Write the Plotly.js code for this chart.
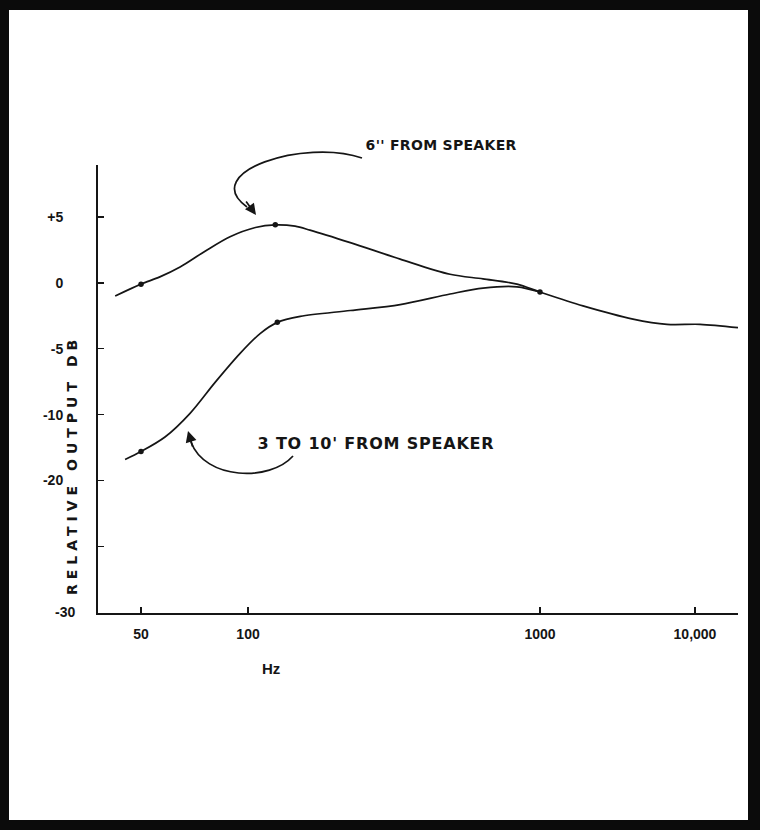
<!DOCTYPE html>
<html>
<head>
<meta charset="utf-8">
<script src="https://cdn.plot.ly/plotly-3.0.1.min.js"></script>
<style>
  html, body { margin: 0; padding: 0; background: #0b0b0b; }
  #chart { position: absolute; left: 9px; top: 10px; width: 739px; height: 810px; background: #fff; }
</style>
</head>
<body>
<div id="chart"></div>
<script>
// ---- data ----
const near6Hz = [42.3, 50, 56.5, 64.4, 75.7, 89, 106, 124, 145, 163, 224, 332, 492, 638, 834, 1000, 1894, 3981, 6598, 10770, 18940];
const near6Db = [-1.0, -0.1, 0.45, 1.2, 2.4, 3.5, 4.2, 4.4, 4.3, 4.0, 3.05, 1.8, 0.65, 0.3, -0.1, -0.7, -1.75, -2.75, -3.15, -3.15, -3.4];

const far10Hz = [45.1, 50, 58.4, 68.7, 80.8, 95, 110, 126, 151, 224, 332, 492, 638, 834, 1000];
const far10Db = [-13.4, -12.8, -11.7, -9.9, -7.55, -5.35, -3.85, -3.0, -2.55, -2.1, -1.65, -0.85, -0.4, -0.3, -0.7];

const near6DotHz = [50, 124, 1000];
const near6DotDb = [-0.1, 4.4, -0.7];
const far10DotHz = [50, 126];
const far10DotDb = [-12.8, -3.0];

const xTickHz = [50, 100, 1000, 10000];
const xTickText = ["50", "100", "1000", "10,000"];
const yTickVals = [5, 0, -5, -10, -15, -20, -25];
const yTickText = ["+5", "0", "-5", "-10", "-20", "", ""];
const yBottomText = "-30";

const label6 = "6'' FROM SPEAKER";
const label10 = "3 TO 10' FROM SPEAKER";
const yTitle = "RELATIVE OUTPUT DB";
const xTitle = "Hz";

// ---- the frequency scale as printed (hand-spaced log decades) ----
const knotPos = [0.0672, 0.2344, 0.6906, 0.9328]; // axis fraction of each labelled frequency
function warp(hz) {
  const l = Math.log10(hz);
  const lk = xTickHz.map(Math.log10);
  let i = 0;
  if (l >= lk[lk.length - 1]) i = lk.length - 2;
  else { while (i < lk.length - 2 && l > lk[i + 1]) i++; }
  return knotPos[i] + (l - lk[i]) * (knotPos[i + 1] - knotPos[i]) / (lk[i + 1] - lk[i]);
}

// page pixel -> paper helpers for decorations (plot area 98..738 x 165..613 on page)
const PL = 98, PR = 738, PT = 165, PB = 613;
const px = x => (x - PL) / (PR - PL);
const py = y => (PB - y) / (PB - PT);

const ink = "#151515";
const lineStyle = { color: ink, width: 1.7, shape: "spline", smoothing: 0.9 };

const traces = [
  { x: near6Hz.map(warp), y: near6Db, mode: "lines", line: lineStyle, hoverinfo: "skip" },
  { x: far10Hz.map(warp), y: far10Db, mode: "lines", line: lineStyle, hoverinfo: "skip" },
  { x: near6DotHz.map(warp), y: near6DotDb, mode: "markers", marker: { color: ink, size: 5.5 } },
  { x: far10DotHz.map(warp), y: far10DotDb, mode: "markers", marker: { color: ink, size: 5.5 } }
];

function pathFromPts(pts) {
  const p = pts.map(([x, y]) => [px(x).toFixed(4), py(y).toFixed(4)]);
  return `M ${p[0][0]},${p[0][1]} C ${p[1][0]},${p[1][1]} ${p[2][0]},${p[2][1]} ${p[3][0]},${p[3][1]}`;
}

const tickFont = { family: "Liberation Sans, Arial, sans-serif", size: 14, color: ink, weight: 700 };

const layout = {
  width: 739, height: 810,
  margin: { l: 89, r: 10, t: 155, b: 207 },
  paper_bgcolor: "#ffffff", plot_bgcolor: "#ffffff",
  showlegend: false,
  xaxis: {
    type: "linear", range: [0, 1],
    tickmode: "array", tickvals: xTickHz.map(warp), ticktext: xTickText,
    ticks: "inside", ticklen: 6, tickwidth: 1.5, tickcolor: ink,
    showline: true, linecolor: ink, linewidth: 2,
    showgrid: false, zeroline: false,
    ticklabelstandoff: 7,
    tickfont: tickFont
  },
  yaxis: {
    range: [-25.05, 8.94],
    tickmode: "array", tickvals: yTickVals, ticktext: yTickText,
    ticks: "inside", ticklen: 6, tickwidth: 1.5, tickcolor: ink,
    showline: true, linecolor: ink, linewidth: 2,
    showgrid: false, zeroline: false,
    ticklabelstandoff: 30,
    tickfont: tickFont
  },
  annotations: [
    { xref: "paper", yref: "paper", x: px(72), y: py(465), text: yTitle, textangle: -90,
      showarrow: false, xanchor: "center", yanchor: "middle",
      font: { family: "DejaVu Sans, sans-serif", size: 14, color: ink, weight: 700 } },
    { xref: "paper", yref: "paper", x: px(366), y: py(145), text: label6, showarrow: false,
      xanchor: "left", yanchor: "middle",
      font: { family: "DejaVu Sans, sans-serif", size: 14, color: ink, weight: 700 } },
    { xref: "paper", yref: "paper", x: px(264), y: py(443), text: label10, showarrow: false,
      xanchor: "left", yanchor: "middle",
      font: { family: "DejaVu Sans, sans-serif", size: 16, color: ink, weight: 700 } },
    { xref: "paper", yref: "paper", x: px(271), y: py(668), text: xTitle, showarrow: false,
      xanchor: "center", yanchor: "middle",
      font: { family: "Liberation Sans, Arial, sans-serif", size: 15, color: ink, weight: 700 } },
    { xref: "paper", yref: "paper", x: px(77), y: py(612), text: yBottomText, showarrow: false,
      xanchor: "right", yanchor: "middle", font: tickFont },
    // arrow heads
    { xref: "paper", yref: "paper",
      x: px(256), y: py(215), ax: -11, ay: -15, text: "", showarrow: true,
      arrowhead: 2, arrowsize: 1.3, arrowwidth: 1.7, arrowcolor: ink },
    { xref: "paper", yref: "paper",
      x: px(188), y: py(431), ax: 5, ay: 17, text: "", showarrow: true,
      arrowhead: 2, arrowsize: 1.3, arrowwidth: 1.7, arrowcolor: ink }
  ],
  shapes: [
    { type: "path", xref: "paper", yref: "paper", line: { color: ink, width: 1.7 },
      path: pathFromPts([[362, 158], [305, 138], [198, 172], [247, 207]]) },
    { type: "path", xref: "paper", yref: "paper", line: { color: ink, width: 1.7 },
      path: pathFromPts([[293, 456], [270, 482], [205, 480], [191, 442]]) }
  ]
};

Plotly.newPlot("chart", traces, layout, { displayModeBar: false, staticPlot: true }).then(() => {
  const texts = document.querySelectorAll("#chart .annotation-text");
  const spacing = ["5px", "0.3px", "0.8px"];
  spacing.forEach((s, i) => { if (texts[i]) texts[i].style.letterSpacing = s; });
});
</script>
</body>
</html>
